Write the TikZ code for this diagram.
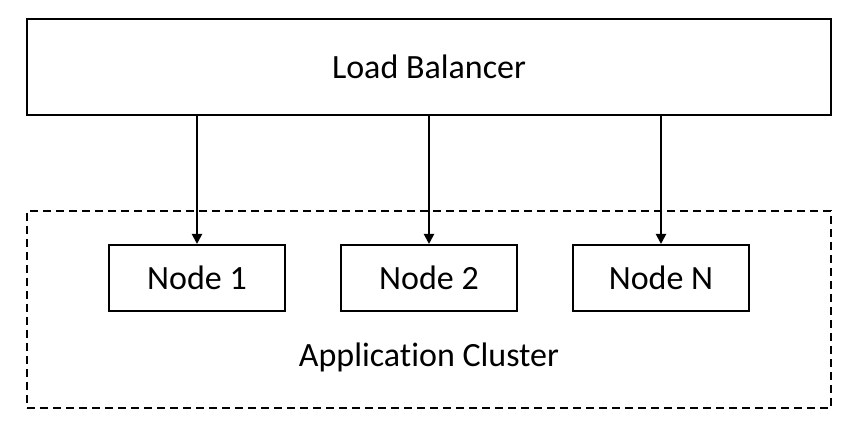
\documentclass[tikz,border=0pt]{standalone}
\usepackage{fontspec}
\setmainfont[Ligatures=NoCommon]{Carlito}
\usetikzlibrary{arrows.meta}
\tikzset{
  box/.style={draw,line width=1pt,minimum width=88pt,minimum height=33pt,font=\fontsize{17}{20}\selectfont},
  cluster/.style={draw,line width=1pt,dash pattern=on 4pt off 2.5pt,minimum width=402pt,minimum height=98.5pt},
  link/.style={line width=1pt,-{Triangle[width=5pt,length=5pt]}}
}
\begin{document}
\begin{tikzpicture}[x=0.5pt,y=-0.5pt]
\useasboundingbox (0,0) rectangle (858,426);
% Load balancer (top)
\node[box,minimum width=402pt,minimum height=48pt] (lb) at (429,67) {Load Balancer};

% Application cluster (dashed)
\node[cluster] (cl) at (429,309.5) {};
\node[font=\fontsize{17}{20}\selectfont] (cllabel) at (429,357) {Application Cluster};

% Nodes inside the cluster
\node[box] (n1) at (197,278) {Node 1};
\node[box] (n2) at (429,278) {Node 2};
\node[box] (nN) at (661,278) {Node N};

% Links from the balancer
\foreach \n in {n1,n2,nN} {
  \draw[link] (lb.south -| \n.north) -- (\n.north);
}
\end{tikzpicture}
\end{document}
